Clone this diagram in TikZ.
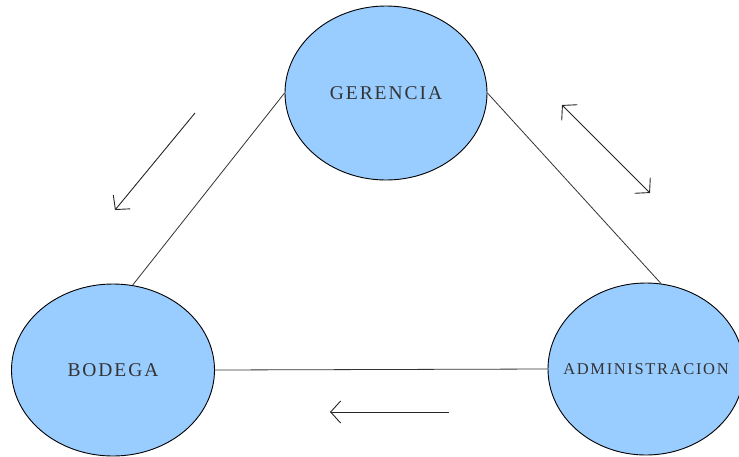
\documentclass[tikz,border=0pt]{standalone}
\usepackage{fontspec}
\setmainfont{Liberation Serif}[LetterSpace=10]
\usetikzlibrary{shapes.geometric,arrows.meta}
\definecolor{bubble}{HTML}{99CCFF}
\definecolor{txt}{HTML}{333333}
\tikzset{
  bubblenode/.style={ellipse, draw=black, line width=0.9pt, fill=bubble, inner sep=0pt, text=txt},
  link/.style={draw=black!80, line width=0.8pt},
  flow/.style={draw=black!85, line width=0.9pt, -{Straight Barb[length=10pt,width=22pt]}},
  flowboth/.style={draw=black!85, line width=0.9pt, {Straight Barb[length=10pt,width=22pt]}-{Straight Barb[length=10pt,width=22pt]}}
}
\begin{document}
\begin{tikzpicture}[x=1pt,y=-1pt]
\useasboundingbox[fill=white] (0,0) rectangle (739,456);
\node[bubblenode, minimum width=202pt, minimum height=174pt] (G) at (386,93) {\makebox[0pt]{\fontsize{19.5}{20}\selectfont GERENCIA}};
\node[bubblenode, minimum width=203pt, minimum height=172pt] (B) at (113,370) {\makebox[0pt]{\fontsize{19.5}{20}\selectfont BODEGA}};
\node[bubblenode, minimum width=196pt, minimum height=172pt] (A) at (646,369) {\makebox[0pt]{\fontsize{16.5}{18}\selectfont ADMINISTRACION}};
\draw[link] (G.west) -- (B.77);
\draw[link] (G.east) -- (A.80);
\draw[link] (B.east) -- (A.west);
\coordinate (a1s) at (195,113);
\coordinate (a1e) at (115,210);
\coordinate (a2s) at (650,193);
\coordinate (a2e) at (562,105);
\coordinate (a3s) at (449,412);
\coordinate (a3e) at (330,412);
\draw[flow] (a1s) -- (a1e);
\draw[flowboth] (a2s) -- (a2e);
\draw[flow] (a3s) -- (a3e);
\end{tikzpicture}
\end{document}
